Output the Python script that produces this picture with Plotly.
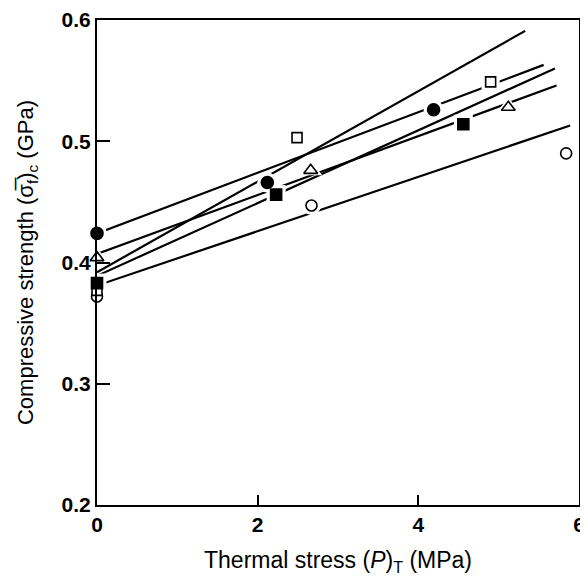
import plotly.graph_objects as go

# Measured data points: thermal stress (MPa) vs compressive strength (GPa)
x_fcircle = [0.0, 2.12, 4.19]
y_fcircle = [0.424, 0.466, 0.526]
x_osquare = [0.0, 2.49, 4.90]
y_osquare = [0.377, 0.503, 0.549]
x_otri = [0.0, 2.66, 5.12]
y_otri = [0.404, 0.476, 0.528]
x_fsquare = [0.0, 2.23, 4.56]
y_fsquare = [0.383, 0.456, 0.514]
x_ocircle = [0.0, 2.67, 5.84]
y_ocircle = [0.372, 0.447, 0.490]

# Fitted lines (start / end points)
line_x_fcircle = [0.0, 5.56]
line_y_fcircle = [0.424, 0.563]
line_x_osquare = [0.0, 5.33]
line_y_osquare = [0.392, 0.591]
line_x_otri = [0.0, 5.72]
line_y_otri = [0.407, 0.546]
line_x_fsquare = [0.0, 5.70]
line_y_fsquare = [0.389, 0.560]
line_x_ocircle = [0.0, 5.89]
line_y_ocircle = [0.381, 0.513]

x_ticks = [0, 2, 4, 6]
y_ticks = [0.2, 0.3, 0.4, 0.5, 0.6]
y_ticktext = ["0.2", "0.3", "0.4", "0.5", "0.6"]

fig = go.Figure()

lines = [
    (line_x_fcircle, line_y_fcircle),
    (line_x_osquare, line_y_osquare),
    (line_x_otri, line_y_otri),
    (line_x_fsquare, line_y_fsquare),
    (line_x_ocircle, line_y_ocircle),
]
for lx, ly in lines:
    fig.add_trace(go.Scatter(x=lx, y=ly, mode="lines",
                             line=dict(color="black", width=2.2),
                             showlegend=False, hoverinfo="skip"))

points = [
    (x_ocircle, y_ocircle, "circle", "white", 11, "open circle"),
    (x_osquare, y_osquare, "square", "white", 10, "open square"),
    (x_otri, y_otri, "triangle-up", "white", 12, "open triangle"),
    (x_fsquare, y_fsquare, "square", "black", 11, "filled square"),
    (x_fcircle, y_fcircle, "circle", "black", 12, "filled circle"),
]
# white halos that break the lines around markers
for px, py, sym, fill, sz, name in points:
    fig.add_trace(go.Scatter(x=px, y=py, mode="markers",
                             marker=dict(symbol=sym, size=sz + 8, color="white",
                                         line=dict(width=0)),
                             showlegend=False, hoverinfo="skip", cliponaxis=False))
for px, py, sym, fill, sz, name in points:
    fig.add_trace(go.Scatter(x=px, y=py, mode="markers", name=name,
                             marker=dict(symbol=sym, size=sz, color=fill,
                                         line=dict(color="black", width=1.6)),
                             showlegend=False, cliponaxis=False))

axis_common = dict(showline=True, linecolor="black", linewidth=2, mirror=True,
                   ticks="inside", tickcolor="black", tickwidth=2,
                   showgrid=False, zeroline=False, automargin=False,
                   tickfont=dict(family="Liberation Sans", size=21, color="black", weight="bold"))

fig.update_xaxes(range=[0, 6], tickvals=x_ticks, ticklen=10,
                 title=dict(text="Thermal stress (<i>P</i>)<sub>T</sub> (MPa)",
                            font=dict(family="Liberation Sans", size=23, color="black"),
                            standoff=17),
                 **axis_common)
fig.update_yaxes(range=[0.2, 0.6], tickvals=y_ticks, ticktext=y_ticktext,
                 ticklen=13,
                 title=dict(text="Compressive strength (σ\u0305<sub>f</sub>)<sub>c</sub> (GPa)",
                            font=dict(family="Liberation Sans", size=22, color="black"),
                            standoff=22),
                 **axis_common)

# the page body adds an 8 px offset, so the figure is 8 px smaller on each axis
fig.update_layout(width=580, height=568,
                  margin=dict(l=89, r=9, t=12, b=71),
                  plot_bgcolor="white", paper_bgcolor="white",
                  showlegend=False)

fig.write_html("out.html")
